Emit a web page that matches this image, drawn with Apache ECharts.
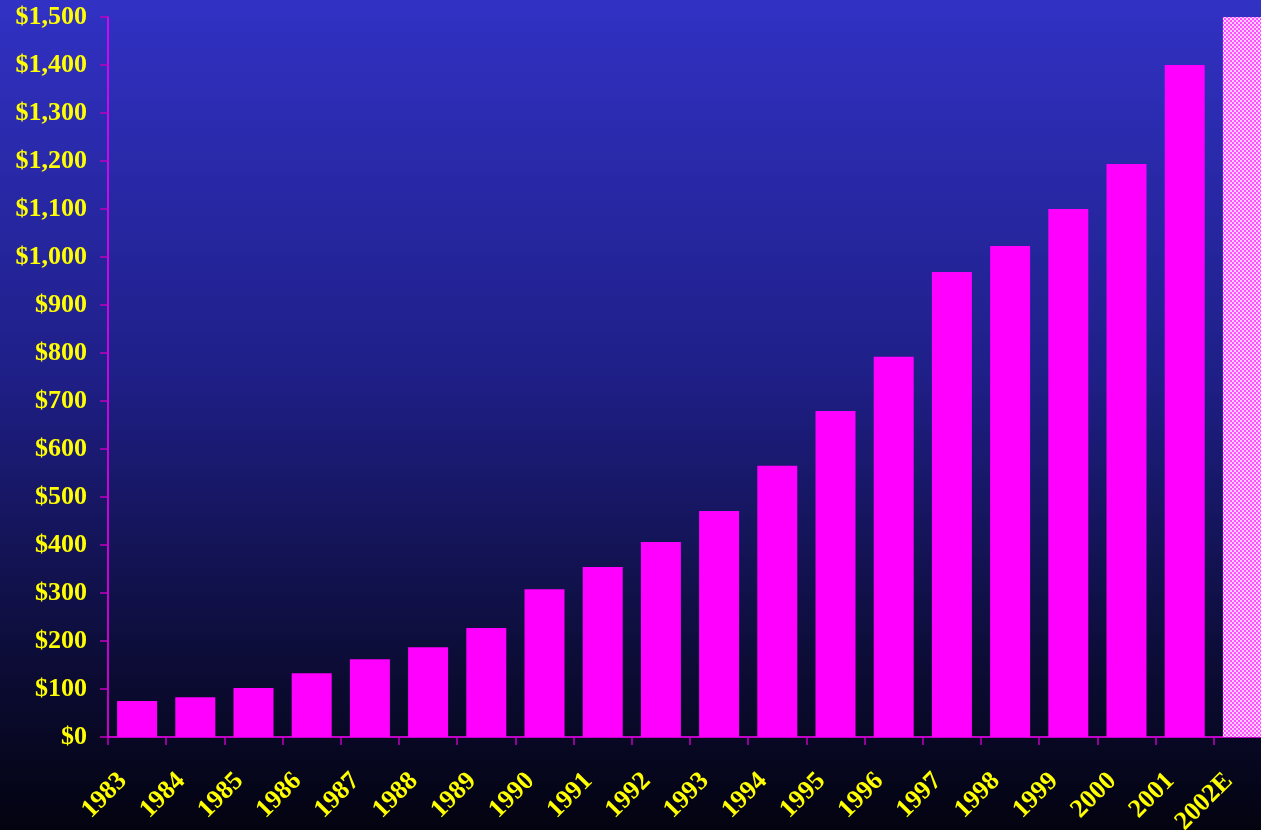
<!DOCTYPE html>
<html>
<head>
<meta charset="utf-8">
<script src="https://cdn.jsdelivr.net/npm/echarts@6/dist/echarts.min.js"></script>
<style>
  html, body { margin: 0; padding: 0; background: #000; overflow: hidden; }
  /* the plot runs slightly past the right edge of the window */
  #chart { width: 1272px; height: 830px; }
</style>
</head>
<body>
<div id="chart"></div>
<script>
// Years on the category axis; the last one is an estimate
const years = ['1983', '1984', '1985', '1986', '1987', '1988', '1989', '1990', '1991', '1992',
               '1993', '1994', '1995', '1996', '1997', '1998', '1999', '2000', '2001', '2002E'];
// Values per year, in dollars
const values = [75, 83, 102, 133, 162, 187, 227, 308, 354, 406,
                471, 565, 679, 792, 969, 1023, 1100, 1194, 1400, 1500];
const estimatedYear = '2002E';

// Fine checker fill for the estimated bar
function checkerPattern() {
  const c = document.createElement('canvas');
  c.width = 4; c.height = 4;
  const g = c.getContext('2d');
  g.fillStyle = '#ff4dff';
  g.fillRect(0, 0, 4, 4);
  g.fillStyle = '#ffd0ff';
  g.fillRect(0, 0, 2, 2);
  g.fillRect(2, 2, 2, 2);
  return c;
}

const labelFont = { color: '#ffff00', fontFamily: '"Liberation Serif", "Times New Roman", serif', fontWeight: 'bold', fontSize: 26 };

const chart = echarts.init(document.getElementById('chart'));
chart.setOption({
  backgroundColor: new echarts.graphic.LinearGradient(0, 0, 0, 1, [
    { offset: 0, color: '#3131c4' },
    { offset: 0.45, color: '#1f1f88' },
    { offset: 0.8, color: '#0c0c36' },
    { offset: 1, color: '#030310' }
  ]),
  animation: false,
  grid: { left: 108, top: 17, bottom: 93, right: 0, containLabel: false, outerBoundsMode: 'none' },
  xAxis: {
    type: 'category',
    data: years,
    axisLine: { lineStyle: { color: '#ff00ff', width: 1.5 } },
    axisTick: { show: true, length: 8, lineStyle: { color: '#c000c0', width: 1.5 } },
    axisLabel: Object.assign({ rotate: 45, margin: 26, interval: 0, padding: [0, 20, 0, 0] }, labelFont)
  },
  yAxis: {
    type: 'value',
    min: 0, max: 1500, interval: 100,
    axisLine: { show: true, lineStyle: { color: '#ff00ff', width: 1.5 } },
    axisTick: { show: true, length: 8, lineStyle: { color: '#c000c0', width: 1.5 } },
    splitLine: { show: false },
    axisLabel: Object.assign({
      margin: 21,
      formatter: v => '$' + v.toLocaleString('en-US')
    }, labelFont)
  },
  series: [{
    type: 'bar',
    barWidth: 40,
    data: values.map((v, i) => ({
      value: v,
      itemStyle: years[i] === estimatedYear
        ? { color: { image: checkerPattern(), repeat: 'repeat' } }
        : { color: '#ff00ff' }
    }))
  }]
});
</script>
</body>
</html>
